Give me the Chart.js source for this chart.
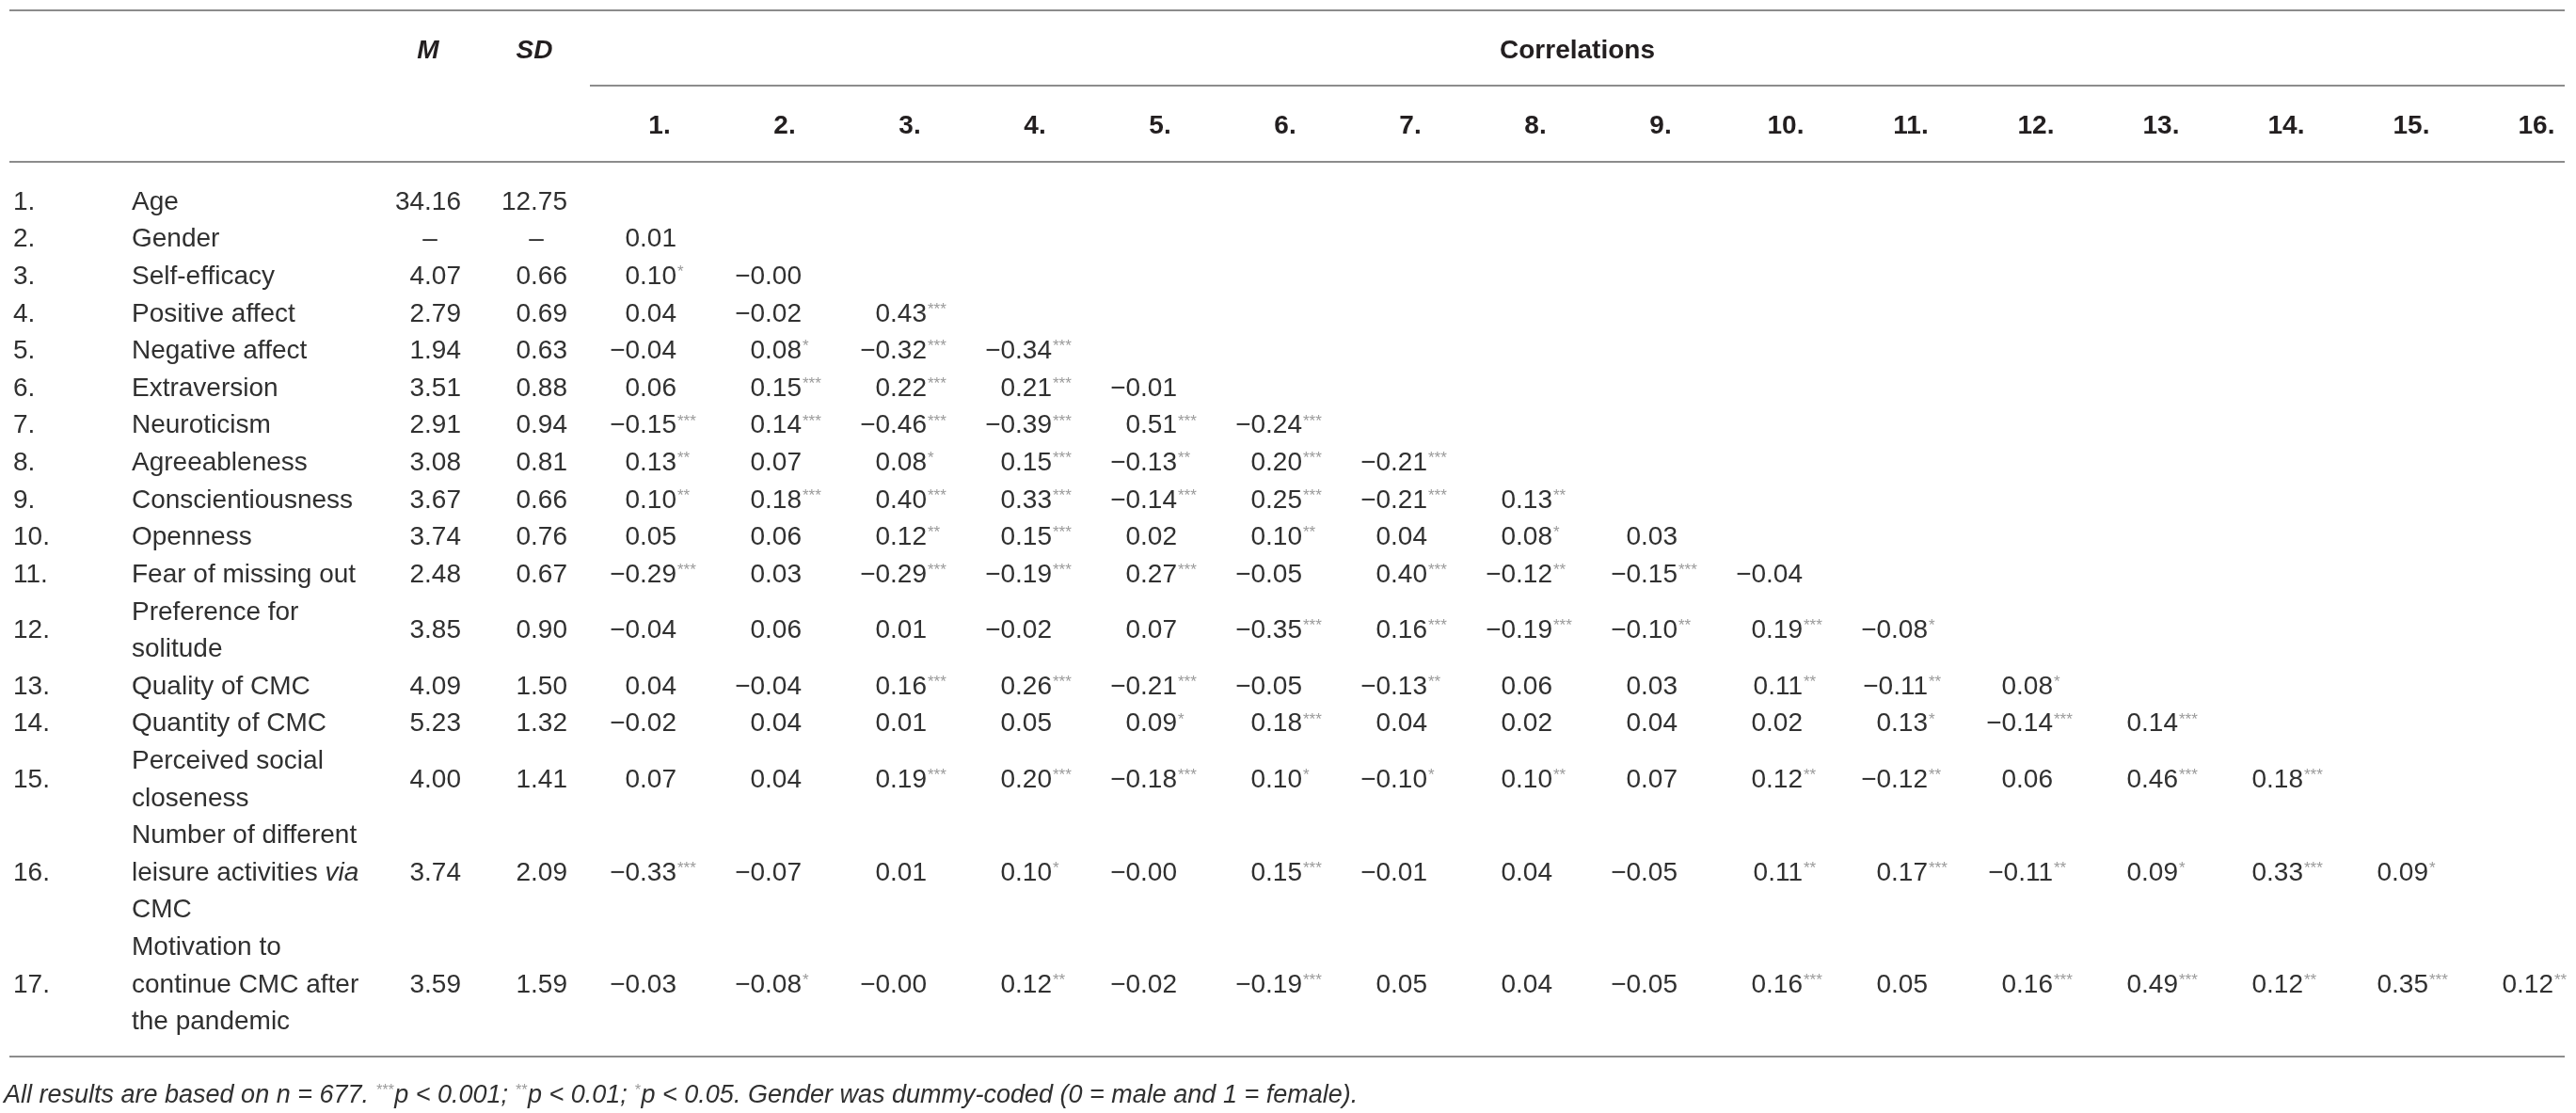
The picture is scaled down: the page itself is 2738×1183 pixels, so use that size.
<!DOCTYPE html>
<html>
<head>
<meta charset="utf-8">
<script src="https://cdn.jsdelivr.net/npm/chart.js@4.4.1/dist/chart.umd.min.js"></script>
<style>
  html, body { margin: 0; padding: 0; background: #fff; }
  canvas { display: block; }
</style>
</head>
<body>
<canvas id="corrTable" width="2738" height="1183"></canvas>
<script>
// one entry per variable, one string per printed line ('*..*' = italic word)
const variables = [
    ["Age"], ["Gender"], ["Self-efficacy"], ["Positive affect"], ["Negative affect"],
    ["Extraversion"], ["Neuroticism"], ["Agreeableness"], ["Conscientiousness"], ["Openness"],
    ["Fear of missing out"], ["Preference for", "solitude"], ["Quality of CMC"], ["Quantity of CMC"],
    ["Perceived social", "closeness"], ["Number of different", "leisure activities *via*", "CMC"],
    ["Motivation to", "continue CMC after", "the pandemic"]
];
const means = [34.16, null, 4.07, 2.79, 1.94, 3.51, 2.91, 3.08, 3.67, 3.74, 2.48, 3.85, 4.09, 5.23, 4.00, 3.74, 3.59];
const sds = [12.75, null, 0.66, 0.69, 0.63, 0.88, 0.94, 0.81, 0.66, 0.76, 0.67, 0.90, 1.50, 1.32, 1.41, 2.09, 1.59];
const colLabels = ["1.", "2.", "3.", "4.", "5.", "6.", "7.", "8.", "9.", "10.", "11.", "12.", "13.", "14.", "15.", "16."];

// lower triangle as printed, stars = significance level
const correlations = [
    [],
    ["0.01"],
    ["0.10*", "-0.00"],
    ["0.04", "-0.02", "0.43***"],
    ["-0.04", "0.08*", "-0.32***", "-0.34***"],
    ["0.06", "0.15***", "0.22***", "0.21***", "-0.01"],
    ["-0.15***", "0.14***", "-0.46***", "-0.39***", "0.51***", "-0.24***"],
    ["0.13**", "0.07", "0.08*", "0.15***", "-0.13**", "0.20***", "-0.21***"],
    ["0.10**", "0.18***", "0.40***", "0.33***", "-0.14***", "0.25***", "-0.21***", "0.13**"],
    ["0.05", "0.06", "0.12**", "0.15***", "0.02", "0.10**", "0.04", "0.08*", "0.03"],
    ["-0.29***", "0.03", "-0.29***", "-0.19***", "0.27***", "-0.05", "0.40***", "-0.12**", "-0.15***", "-0.04"],
    ["-0.04", "0.06", "0.01", "-0.02", "0.07", "-0.35***", "0.16***", "-0.19***", "-0.10**", "0.19***", "-0.08*"],
    ["0.04", "-0.04", "0.16***", "0.26***", "-0.21***", "-0.05", "-0.13**", "0.06", "0.03", "0.11**", "-0.11**", "0.08*"],
    ["-0.02", "0.04", "0.01", "0.05", "0.09*", "0.18***", "0.04", "0.02", "0.04", "0.02", "0.13*", "-0.14***", "0.14***"],
    ["0.07", "0.04", "0.19***", "0.20***", "-0.18***", "0.10*", "-0.10*", "0.10**", "0.07", "0.12**", "-0.12**", "0.06", "0.46***", "0.18***"],
    ["-0.33***", "-0.07", "0.01", "0.10*", "-0.00", "0.15***", "-0.01", "0.04", "-0.05", "0.11**", "0.17***", "-0.11**", "0.09*", "0.33***", "0.09*"],
    ["-0.03", "-0.08*", "-0.00", "0.12**", "-0.02", "-0.19***", "0.05", "0.04", "-0.05", "0.16***", "0.05", "0.16***", "0.49***", "0.12**", "0.35***", "0.12**"]
];

const footnote = [
    ["All results are based on n = 677. ", false], ["***", true], ["p < 0.001; ", false],
    ["**", true], ["p < 0.01; ", false], ["*", true],
    ["p < 0.05. Gender was dummy-coded (0 = male and 1 = female).", false]
];

const FONT = '"Liberation Sans", Arial, Helvetica, sans-serif';
const INK = "#231f20";
const BODY = "#303030";
const RULE = "#8c8c8c";
const STAR = "#9a9a9a";
const CAP = 10; // half the cap height of the body font

// rows with wrapped labels take more lines
const lineStart = [];
let lineCount = 0;
variables.forEach(v => { lineStart.push(lineCount); lineCount += v.length; });
const rowCenter = variables.map((v, i) => lineStart[i] + (v.length - 1) / 2);

const cells = [];
correlations.forEach((row, r) => {
    row.forEach((txt, c) => cells.push({ x: colLabels[c], y: rowCenter[r], txt: txt }));
});

function minus(s) { return s.replace("-", "\u2212"); }

function drawValue(ctx, txt, right, y) {
    const m = txt.match(/^(-?[\d.]+)(\**)$/);
    ctx.font = "28px " + FONT;
    ctx.fillStyle = BODY;
    ctx.textAlign = "right";
    ctx.textBaseline = "alphabetic";
    ctx.fillText(minus(m[1]), right, y + CAP);
    if (m[2]) {
        ctx.font = "17px " + FONT;
        ctx.fillStyle = STAR;
        ctx.textAlign = "left";
        ctx.textBaseline = "top";
        ctx.fillText(m[2], right + 1, y - CAP - 1);
    }
}

function hline(ctx, x1, x2, y) {
    ctx.beginPath();
    ctx.moveTo(x1, y);
    ctx.lineTo(x2, y);
    ctx.stroke();
}

const tablePlugin = {
    id: "tableText",
    afterDatasetsDraw(chart) {
        const ctx = chart.ctx;
        const xs = chart.scales.x, ys = chart.scales.y;
        const W = chart.width;
        ctx.save();

        // rules
        ctx.strokeStyle = RULE;
        ctx.lineWidth = 2;
        hline(ctx, 10, W - 12, 11);
        hline(ctx, 627, W - 12, 91);
        hline(ctx, 10, W - 12, 172);
        hline(ctx, 10, W - 12, 1123);

        // header
        ctx.fillStyle = INK;
        ctx.textAlign = "center";
        ctx.textBaseline = "alphabetic";
        ctx.font = "italic bold 28px " + FONT;
        ctx.fillText("M", 455, 52 + CAP);
        ctx.fillText("SD", 568, 52 + CAP);
        ctx.font = "bold 28px " + FONT;
        ctx.fillText("Correlations", (627 + W - 12) / 2, 52 + CAP);
        colLabels.forEach((lab, i) => {
            ctx.fillText(lab, xs.getPixelForValue(i), 132 + CAP);
        });

        // row numbers, labels, M and SD
        variables.forEach((lines, r) => {
            const yc = ys.getPixelForValue(rowCenter[r]);
            ctx.font = "28px " + FONT;
            ctx.fillStyle = BODY;
            ctx.textAlign = "left";
            ctx.fillText((r + 1) + ".", 14, yc + CAP);
            lines.forEach((line, k) => {
                const yl = ys.getPixelForValue(lineStart[r] + k) + CAP;
                let x = 140;
                line.split(/(\*[^*]+\*)/).forEach(part => {
                    if (!part) return;
                    const it = part.startsWith("*");
                    const t = it ? part.slice(1, -1) : part;
                    ctx.font = (it ? "italic " : "") + "28px " + FONT;
                    ctx.textAlign = "left";
                    ctx.fillText(t, x, yl);
                    x += ctx.measureText(t).width;
                });
            });
            ctx.font = "28px " + FONT;
            [[means[r], 455], [sds[r], 568]].forEach(([v, cx]) => {
                if (v === null) {
                    ctx.textAlign = "center";
                    ctx.fillText("\u2013", cx + 2, yc + CAP);
                } else {
                    ctx.textAlign = "right";
                    ctx.fillText(v.toFixed(2), cx + 35, yc + CAP);
                }
            });
        });

        // correlation cells at their scale positions
        const meta = chart.getDatasetMeta(0);
        meta.data.forEach((pt, i) => drawValue(ctx, cells[i].txt, pt.x + 18, pt.y));

        // footnote
        let fx = 4;
        footnote.forEach(([t, sup]) => {
            ctx.textAlign = "left";
            if (sup) {
                ctx.font = "italic 16px " + FONT;
                ctx.fillStyle = STAR;
                ctx.textBaseline = "top";
                ctx.fillText(t, fx, 1163 - CAP - 1);
            } else {
                ctx.font = "italic 27px " + FONT;
                ctx.fillStyle = BODY;
                ctx.textBaseline = "alphabetic";
                ctx.fillText(t, fx, 1163 + 9);
            }
            fx += ctx.measureText(t).width + (sup ? 1 : 0);
        });
        ctx.restore();
    }
};

new Chart(document.getElementById("corrTable"), {
    type: "scatter",
    data: {
        datasets: [{ data: cells, pointRadius: 0, pointHoverRadius: 0 }]
    },
    options: {
        responsive: false,
        animation: false,
        devicePixelRatio: 1,
        events: [],
        layout: { padding: { left: 701, right: 42, top: 193, bottom: 79 } },
        plugins: { legend: { display: false }, tooltip: { enabled: false } },
        scales: {
            x: { type: "category", labels: colLabels, offset: false, display: false },
            y: { type: "linear", reverse: true, min: -0.5, max: lineCount - 0.5, display: false }
        }
    },
    plugins: [tablePlugin]
});
</script>
</body>
</html>
